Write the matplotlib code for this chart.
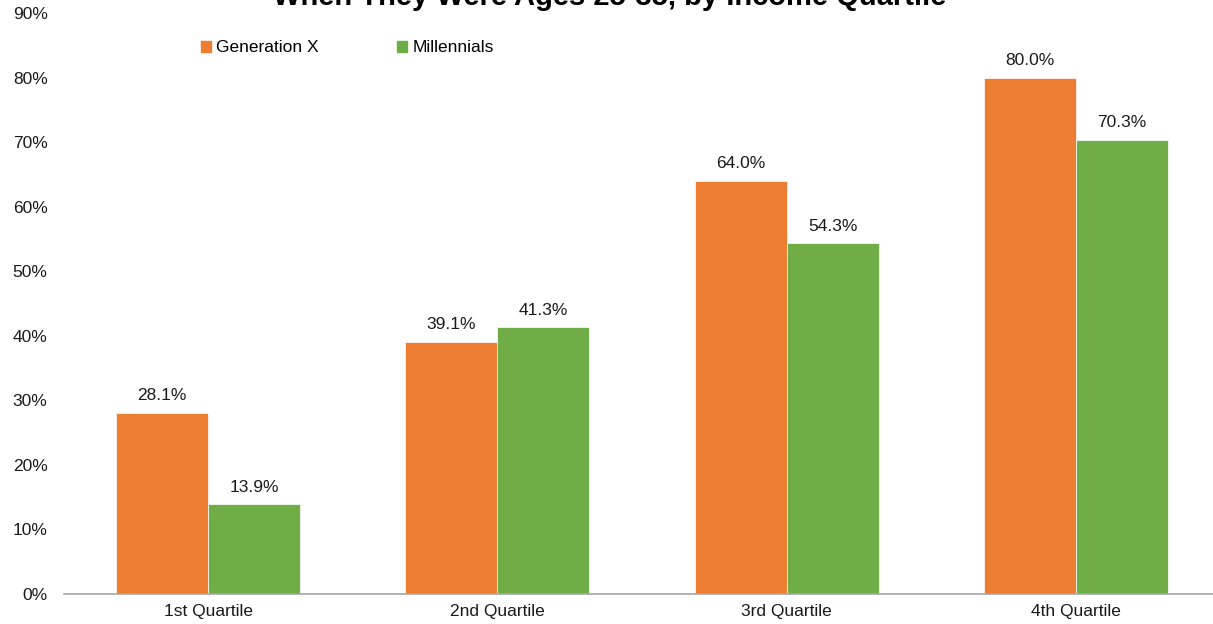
import matplotlib.pyplot as plt
import numpy as np
from matplotlib.patches import Patch

plt.rcParams['font.family'] = ['Liberation Sans', 'DejaVu Sans']

categories = ["1st Quartile", "2nd Quartile", "3rd Quartile", "4th Quartile"]
genx = [28.1, 39.1, 64.0, 80.0]
millennials = [13.9, 41.3, 54.3, 70.3]
series_names = ["Generation X", "Millennials"]
yticks = [0, 10, 20, 30, 40, 50, 60, 70, 80, 90]

orange = "#ED7D31"
green = "#70AD47"

W, H = 1213, 624
fig = plt.figure(figsize=(W / 100, H / 100), dpi=100)
# axes extends a bit past the right edge like the original crop
ax = fig.add_axes([63.5 / W, 30 / H, 1157 / W, 581 / H])

x = np.arange(len(categories))
bw = 0.318
b1 = ax.bar(x - bw / 2, genx, bw, color=orange, edgecolor="white", linewidth=0.5)
b2 = ax.bar(x + bw / 2, millennials, bw, color=green, edgecolor="white", linewidth=0.5)

for bars, vals in [(b1, genx), (b2, millennials)]:
    for b, v in zip(bars, vals):
        ax.annotate(f"{v:.1f}%", (b.get_x() + b.get_width() / 2, v),
                    xytext=(0, 7), textcoords="offset points",
                    ha="center", va="bottom", fontsize=12.5, color="#1a1a1a")

ax.set_xlim(-0.5, 3.5)
ax.set_ylim(0, 90)
ax.set_yticks(yticks)
ax.set_yticklabels([f"{t}%" for t in yticks])
ax.set_xticks(x)
ax.set_xticklabels(categories)
ax.tick_params(axis="both", length=0, labelsize=12.5, colors="#1a1a1a")
ax.tick_params(axis="y", pad=11.5)
ax.tick_params(axis="x", pad=7)

for s in ["top", "right", "left"]:
    ax.spines[s].set_visible(False)
ax.spines["bottom"].set_color("#A6A6A6")
ax.spines["bottom"].set_linewidth(1.2)

handles = [Patch(color=orange), Patch(color=green)]
fig.legend(handles, series_names, loc="center left", bbox_to_anchor=(185 / W, 1 - 48 / H),
           ncol=2, frameon=False, fontsize=12.5, handlelength=0.6, handleheight=0.6,
           handletextpad=0.3, columnspacing=4.5)

# title is cropped at the top in the source image
fig.text(0.503, 1 - 5 / H, "When They Were Ages 25-35, by Income Quartile",
         ha="center", va="baseline", fontsize=21, fontweight="bold", color="#000000")

fig.savefig("out.png", dpi=100)
